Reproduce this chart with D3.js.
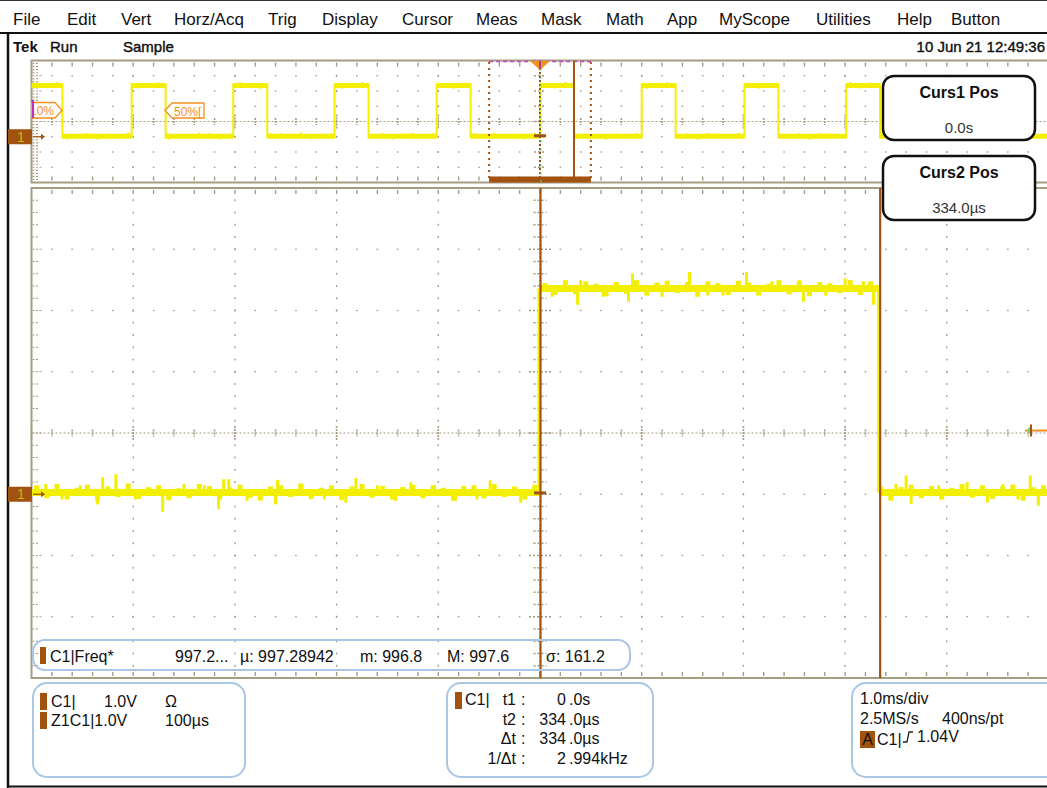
<!DOCTYPE html>
<html lang="en">
<head>
<meta charset="utf-8" />
<title>Scope capture</title>
<script src="https://cdn.jsdelivr.net/npm/d3@7"></script>
<style>
  body { margin: 0; background: #fff; }
  text { font-family: "Liberation Sans", Arial, sans-serif; }
</style>
</head>
<body>
<script>
// ---- values ----
const menuItems = ["File", "Edit", "Vert", "Horz/Acq", "Trig", "Display", "Cursor", "Meas",
                   "Mask", "Math", "App", "MyScope", "Utilities", "Help", "Button"];
const statusItems = ["Tek", "Run", "Sample"];
const timestamp = "10 Jun 21 12:49:36";

// zoomed view: time in µs, volts (1 V/div, ground one division below centre)
const zoomSpan = [-500, 500];
const voltSpan = [-3, 5];
const lowLevel = 0.03;
const highLevel = 3.36;
const pulseEdges = [0, 334];          // rise, fall (µs)
const trigLevel = 1.04;
// larger noise spikes on the zoomed trace: [time µs] / [offset V]
const spikeTimes = [-486, -470, -452, -435, -430, -417, -398, -371, -350, -330, -316, -311, -306,
                    -288, -260, -258, -236, -212, -191, -181, -160, -142, -127, -104, -83, -62, -49, -19,
                    12, 37, 40, 62, 87, 91, 120, 147, 165, 180, 203, 228, 255, 259, 281, 300, 318, 328,
                    350, 360, 365, 392, 420, 440, 455, 470, 482, 490];
const spikeVolts = [0.12, -0.1, 0.1, -0.18, 0.23, 0.28, -0.1, -0.3, 0.12, 0.1, -0.26, 0.2, 0.2,
                    -0.12, -0.18, 0.19, 0.1, -0.1, -0.15, 0.22, 0.1, -0.12, 0.15, 0.1, -0.12, -0.1, 0.18, -0.15,
                    -0.12, -0.25, 0.12, -0.12, -0.2, 0.23, -0.12, 0.25, -0.1, -0.1, 0.25, 0.1, 0.12, -0.2, -0.1, 0.15, 0.1, -0.25,
                    0.12, 0.26, -0.17, 0.1, 0.15, -0.15, 0.12, -0.1, 0.26, -0.2];
// small ripple, one value per 10 µs from -495 µs
const rippleVolts = [0.1, -0.08, 0.12, -0.1, 0.06, 0.11, -0.12, 0.08, -0.06, 0.13,
                     -0.09, 0.07, 0.1, -0.11, 0.05, -0.08, 0.12, 0.09, -0.1, 0.07,
                     0.11, -0.07, -0.12, 0.08, 0.1, -0.06, 0.13, -0.09, 0.06, 0.1,
                     -0.11, 0.08, 0.12, -0.07, 0.09, -0.1, 0.07, 0.11, -0.08, 0.1,
                     0.06, -0.12, 0.09, 0.1, -0.08, 0.12, -0.06, 0.08, -0.1, 0.11,
                     0.07, -0.09, 0.12, -0.08, 0.1, 0.06, -0.11, 0.09, -0.07, 0.12,
                     -0.1, 0.08, 0.11, -0.06, 0.09, -0.12, 0.1, 0.07, -0.09, 0.11,
                     0.08, -0.1, 0.06, 0.12, -0.08, 0.1, -0.11, 0.09, 0.07, -0.06,
                     0.12, -0.09, 0.1, 0.08, -0.12, 0.07, 0.11, -0.08, 0.09, -0.1,
                     0.06, 0.12, -0.07, 0.1, -0.09, 0.08, 0.11, -0.12, 0.07, 0.1];

// overview: time in ms
const overviewSpan = [-5, 5];
const overviewRises = [-5.03, -4.015, -3.016, -2.02, -1.016, 0, 1.0, 2.01, 3.01, 4.01];
const pulseWidthMs = 0.334;
const zoomWindowMs = [-0.5, 0.5];

const cursorTimes = [0, 334];         // µs
const cursorLabels = ["Curs1 Pos", "Curs2 Pos"];
const cursorValues = ["0.0s", "334.0µs"];

const measName = "C1|Freq*";
const measItems = ["997.2...", "µ: 997.28942", "m: 996.8", "M: 997.6", "σ: 161.2"];
const vertRows = [["C1|", "1.0V", "Ω"], ["Z1C1|1.0V", "", "100µs"]];
const cursorRows = [["t1", "0 .0s"], ["t2", "334 .0µs"], ["Δt", "334 .0µs"], ["1/Δt", "2 .994kHz"]];
const horizRows = ["1.0ms/div", "2.5MS/s", "400ns/pt"];
const trigText = ["A", "C1|", "1.04V"];

// ---- layout ----
const W = 1047, H = 788;
const menuX = [13, 67, 121, 174, 268, 322, 402, 476, 541, 606, 667, 719, 816, 897, 951];
const statusX = [13, 50, 123];
const measX = [175, 240, 360, 447, 546];
const gridCol = "#a59c82";
const brown = "#a1520e";
const yellow = "#f3ef00";
const orange = "#f5901c";
const boxBlue = "#a9c7e5";

const svg = d3.select("body").append("svg")
    .attr("width", W).attr("height", H)
    .style("display", "block");
svg.append("rect").attr("width", W).attr("height", H).attr("fill", "#fff");

const defs = svg.append("defs");
defs.append("clipPath").attr("id", "clipO")
    .append("rect").attr("x", 31.5).attr("y", 60).attr("width", W - 31.5).attr("height", 123);
defs.append("clipPath").attr("id", "clipZ")
    .append("rect").attr("x", 31.5).attr("y", 188).attr("width", W - 31.5).attr("height", 490);

// ---- frame, menu and status line ----
svg.append("line").attr("x1", 0).attr("x2", W).attr("y1", 0.5).attr("y2", 0.5).attr("stroke", "#333");
svg.append("line").attr("x1", 0).attr("x2", W).attr("y1", 33).attr("y2", 33).attr("stroke", "#111").attr("stroke-width", 2);
svg.append("line").attr("x1", 8).attr("x2", 8).attr("y1", 33).attr("y2", H).attr("stroke", "#111").attr("stroke-width", 2.5);
svg.append("line").attr("x1", 8).attr("x2", W).attr("y1", 786.5).attr("y2", 786.5).attr("stroke", "#111").attr("stroke-width", 2);

svg.selectAll(".menu").data(menuItems).enter().append("text")
    .attr("class", "menu")
    .attr("x", (d, i) => menuX[i]).attr("y", 25)
    .attr("font-size", 17).attr("fill", "#111")
    .text(d => d);

svg.selectAll(".status").data(statusItems).enter().append("text")
    .attr("class", "status")
    .attr("x", (d, i) => statusX[i]).attr("y", 52)
    .attr("font-size", 15).attr("font-weight", (d, i) => i === 0 ? "bold" : "normal")
    .attr("fill", "#111").attr("stroke", "#111").attr("stroke-width", (d, i) => i === 0 ? 0 : 0.4)
    .text(d => d);
svg.append("text").attr("x", 1045).attr("y", 52).attr("text-anchor", "end")
    .attr("font-size", 15).attr("fill", "#111").attr("stroke", "#111").attr("stroke-width", 0.4)
    .text(timestamp);

// ---- scales ----
const xZ = d3.scaleLinear().domain(zoomSpan).range([31.5, 1048.5]);
const yZ = d3.scaleLinear().domain(voltSpan).range([678, 188]);
const xO = d3.scaleLinear().domain(overviewSpan).range([31.5, 1048.5]);
const yO = d3.scaleLinear().domain(voltSpan).range([182.5, 60.5]);

// ---- graticule ----
function graticule(g, x, y, dense) {
  const [xa, xb] = x.domain(), [ya, yb] = y.domain();
  const dx = (xb - xa) / 10;
  const xMaj = d3.range(11).map(i => xa + i * dx);
  const xMin = d3.range(51).map(i => xa + i * dx / 5);
  const yMaj = d3.range(9).map(j => ya + j);
  const yMin = d3.range(41).map(j => ya + j * 0.2);
  const xc = x((xa + xb) / 2), yc = y((ya + yb) / 2);
  const dot = (px, py, w, h) => g.append("rect").attr("x", px - w / 2).attr("y", py - h / 2)
      .attr("width", w).attr("height", h).attr("fill", gridCol);

  // dots on the major rows
  yMaj.forEach((v, j) => {
    if (j === 0 || j === 8 || j === 4) return;
    xMin.forEach((t, i) => { if (i > 0 && i < 50) dot(x(t), y(v), 1.6, 1.3); });
  });
  // dots on the major columns
  xMaj.forEach((t, i) => {
    if (i === 0 || i === 10 || i === 5) return;
    (dense ? yMin : yMaj).forEach((v, j) => { if (j > 0 && j < (dense ? 40 : 8)) dot(x(t), y(v), 1.3, 2); });
  });
  // centre lines, dotted with ticks
  g.append("line").attr("x1", x(xa)).attr("x2", x(xb)).attr("y1", yc).attr("y2", yc)
      .attr("stroke", gridCol).attr("stroke-dasharray", "2,2");
  g.append("line").attr("x1", xc).attr("x2", xc).attr("y1", y(ya)).attr("y2", y(yb))
      .attr("stroke", gridCol).attr("stroke-dasharray", "2,2");
  xMin.forEach((t, i) => {
    const h = i % 5 === 0 ? 14 : 7;
    g.append("line").attr("x1", x(t)).attr("x2", x(t)).attr("y1", yc - h / 2).attr("y2", yc + h / 2)
        .attr("stroke", gridCol).attr("stroke-width", 1.6).attr("stroke-dasharray", "2,1");
  });
  (dense ? yMin : yMaj).forEach((v, j) => {
    const w = dense ? (j % 5 === 0 ? 22 : 13) : 12;
    g.append("line").attr("x1", xc - w / 2).attr("x2", xc + w / 2).attr("y1", y(v)).attr("y2", y(v))
        .attr("stroke", gridCol).attr("stroke-width", 1.3).attr("stroke-dasharray", "2,2");
  });
  // border ticks
  xMin.forEach((t, i) => {
    if (i === 0) return;
    dot(x(t), y(yb) + 4, 1.4, 4);
    dot(x(t), y(ya) - 4, 1.4, 4);
  });
  yMin.forEach((v, j) => {
    g.append("line").attr("x1", x(xa) + 1).attr("x2", x(xa) + (j % 5 === 0 ? 11 : 7))
        .attr("y1", y(v)).attr("y2", y(v))
        .attr("stroke", gridCol).attr("stroke-width", 1.1).attr("stroke-dasharray", "2,1.5");
  });
  // frame
  g.append("rect").attr("x", x(xa)).attr("y", y(yb)).attr("width", x(xb) - x(xa)).attr("height", y(ya) - y(yb))
      .attr("fill", "none").attr("stroke", gridCol).attr("stroke-width", 2);
}

graticule(svg.append("g").attr("id", "grid-overview"), xO, yO, false);
graticule(svg.append("g").attr("id", "grid-zoom"), xZ, yZ, true);

// ---- overview trace ----
const gO = svg.append("g").attr("clip-path", "url(#clipO)");
const ovSegs = [];
overviewRises.forEach((r, i) => {
  const next = i + 1 < overviewRises.length ? overviewRises[i + 1] : overviewSpan[1] + 1;
  ovSegs.push([r, r + pulseWidthMs, highLevel]);
  ovSegs.push([r + pulseWidthMs, next, lowLevel]);
});
gO.selectAll(".ovlevel").data(ovSegs).enter().append("line")
    .attr("x1", d => xO(d[0])).attr("x2", d => xO(d[1]))
    .attr("y1", d => yO(d[2])).attr("y2", d => yO(d[2]))
    .attr("stroke", yellow).attr("stroke-width", 5);
// ripple on the overview trace (same ripple list, spread over the 10 ms span)
gO.selectAll(".ovripple").data(rippleVolts).enter().append("line")
    .attr("x1", (d, i) => xO(-4.95 + i * 0.1)).attr("x2", (d, i) => xO(-4.95 + i * 0.1))
    .attr("y1", (d, i) => {
      const t = -4.95 + i * 0.1;
      const s = ovSegs.find(q => t >= q[0] && t < q[1]);
      return yO(s ? s[2] : lowLevel);
    })
    .attr("y2", (d, i) => {
      const t = -4.95 + i * 0.1;
      const s = ovSegs.find(q => t >= q[0] && t < q[1]);
      return yO((s ? s[2] : lowLevel) + d * 1.4) + (d > 0 ? -1 : 1);
    })
    .attr("stroke", yellow).attr("stroke-width", 2);
gO.selectAll(".ovedge").data(ovSegs.slice(1)).enter().append("line")
    .attr("x1", d => xO(d[0])).attr("x2", d => xO(d[0]))
    .attr("y1", d => yO(lowLevel) + 2).attr("y2", d => yO(highLevel) - 2)
    .attr("stroke", yellow).attr("stroke-width", 2);

// zoom window box, trigger position and cursors in the overview
const zl = xO(zoomWindowMs[0]), zr = xO(zoomWindowMs[1]);
[zl, zr].forEach(px => gO.append("line").attr("x1", px).attr("x2", px).attr("y1", 62).attr("y2", 180)
    .attr("stroke", brown).attr("stroke-width", 2).attr("stroke-dasharray", "2,4"));
gO.append("line").attr("x1", zl).attr("x2", zr).attr("y1", 61.5).attr("y2", 61.5)
    .attr("stroke", "#c040c0").attr("stroke-width", 1.5).attr("stroke-dasharray", "4,3");
gO.append("rect").attr("x", zl).attr("y", 176.5).attr("width", zr - zl).attr("height", 6).attr("fill", brown);
gO.append("line").attr("x1", xO(0)).attr("x2", xO(0)).attr("y1", 68).attr("y2", 182)
    .attr("stroke", brown).attr("stroke-width", 2).attr("stroke-dasharray", "2,2");
gO.append("line").attr("x1", xO(0) + 1).attr("x2", xO(0) + 1).attr("y1", 68).attr("y2", 182)
    .attr("stroke", "#7fe07f").attr("stroke-width", 1).attr("stroke-dasharray", "3,5");
gO.append("line").attr("x1", xO(cursorTimes[1] / 1000)).attr("x2", xO(cursorTimes[1] / 1000))
    .attr("y1", 61).attr("y2", 182).attr("stroke", brown).attr("stroke-width", 2);
gO.append("path")
    .attr("d", `M${xO(0) - 10},61 L${xO(0) + 10},61 L${xO(0)},70 Z`).attr("fill", orange);
gO.append("line").attr("x1", xO(0)).attr("x2", xO(0)).attr("y1", 61).attr("y2", 69)
    .attr("stroke", "#8a2ea0").attr("stroke-width", 1.5);
gO.append("rect").attr("x", xO(0) - 6).attr("y", yO(lowLevel) - 2).attr("width", 12).attr("height", 3).attr("fill", brown);

// reference level labels
gO.append("path").attr("d", "M20,102.5 H55 L62,110.5 L55,118 H20 Z")
    .attr("fill", "#fff").attr("stroke", orange).attr("stroke-width", 1.3);
gO.append("text").attr("x", 30).attr("y", 115).attr("font-size", 12)
    .attr("font-family", "DejaVu Sans Mono").attr("fill", orange).text("10%");
gO.append("rect").attr("x", 31.5).attr("y", 100).attr("width", 2.5).attr("height", 18).attr("fill", "#c030c0");
gO.append("path").attr("d", "M165,110.5 L172,103 H204 V118 H172 Z")
    .attr("fill", "#fff").attr("stroke", orange).attr("stroke-width", 1.3);
gO.append("text").attr("x", 174).attr("y", 115.5).attr("font-size", 12)
    .attr("font-family", "DejaVu Sans Mono").attr("fill", orange).text("50%[");

// ---- zoomed trace ----
const gZ = svg.append("g").attr("clip-path", "url(#clipZ)");
const levelAt = t => (t >= pulseEdges[0] && t < pulseEdges[1]) ? highLevel : lowLevel;
const zSegs = [[zoomSpan[0], pulseEdges[0], lowLevel], [pulseEdges[0], pulseEdges[1], highLevel],
               [pulseEdges[1], zoomSpan[1], lowLevel]];
gZ.selectAll(".zlevel").data(zSegs).enter().append("line")
    .attr("x1", d => xZ(d[0])).attr("x2", d => xZ(d[1]))
    .attr("y1", d => yZ(d[2])).attr("y2", d => yZ(d[2]))
    .attr("stroke", yellow).attr("stroke-width", 7);
const rippleTimes = rippleVolts.map((v, i) => -495 + i * 10);
gZ.selectAll(".ripple").data(rippleTimes).enter().append("line")
    .attr("x1", d => xZ(d)).attr("x2", d => xZ(d))
    .attr("y1", d => yZ(levelAt(d)))
    .attr("y2", (d, i) => yZ(levelAt(d) + rippleVolts[i]) + (rippleVolts[i] > 0 ? -1 : 1))
    .attr("stroke", yellow).attr("stroke-width", 5);
gZ.selectAll(".zedge").data(pulseEdges).enter().append("line")
    .attr("x1", d => xZ(d) - 1).attr("x2", d => xZ(d) - 1)
    .attr("y1", yZ(lowLevel)).attr("y2", yZ(highLevel))
    .attr("stroke", yellow).attr("stroke-width", 3);
gZ.selectAll(".spike").data(spikeTimes).enter().append("line")
    .attr("x1", d => xZ(d)).attr("x2", d => xZ(d))
    .attr("y1", d => yZ(levelAt(d)))
    .attr("y2", (d, i) => yZ(levelAt(d) + spikeVolts[i]) + (spikeVolts[i] > 0 ? -1 : 1))
    .attr("stroke", yellow).attr("stroke-width", 3);

// cursors in the zoomed view
gZ.selectAll(".cursor").data(cursorTimes).enter().append("line")
    .attr("x1", d => xZ(d) + 0.5).attr("x2", d => xZ(d) + 0.5)
    .attr("y1", 188).attr("y2", 678)
    .attr("stroke", brown).attr("stroke-width", 2.2);
gZ.append("rect").attr("x", xZ(0) - 6).attr("y", yZ(lowLevel) - 1).attr("width", 12).attr("height", 3).attr("fill", brown);
// trigger level marker
const yT = yZ(trigLevel);
gZ.append("line").attr("x1", 1025).attr("x2", W).attr("y1", yT).attr("y2", yT).attr("stroke", orange).attr("stroke-width", 2);
gZ.append("line").attr("x1", 1031).attr("x2", 1031).attr("y1", yT - 6).attr("y2", yT + 6).attr("stroke", brown).attr("stroke-width", 2);
gZ.append("line").attr("x1", 1029).attr("x2", 1029).attr("y1", yT - 3).attr("y2", yT + 3).attr("stroke", "#7fd07f").attr("stroke-width", 2);

// ground markers
[[yO(0), 15], [yZ(0), 15]].forEach(([gy, h]) => {
  svg.append("rect").attr("x", 8).attr("y", gy - h / 2).attr("width", 24).attr("height", h).attr("fill", brown);
  svg.append("text").attr("x", 21).attr("y", gy + 5).attr("text-anchor", "middle")
      .attr("font-size", 14).attr("font-family", "DejaVu Serif").attr("fill", "#c8b418").text("1");
  svg.append("line").attr("x1", 33).attr("x2", 41).attr("y1", gy).attr("y2", gy).attr("stroke", brown).attr("stroke-width", 1.2);
  svg.append("path").attr("d", `M41,${gy - 3} L45,${gy} L41,${gy + 3} Z`).attr("fill", brown);
});

// ---- cursor readout boxes ----
cursorLabels.forEach((lab, i) => {
  const top = 76 + i * 80;
  svg.append("rect").attr("x", 883).attr("y", top).attr("width", 152).attr("height", 64).attr("rx", 11)
      .attr("fill", "#fff").attr("stroke", "#111").attr("stroke-width", 2.5);
  svg.append("text").attr("x", 959).attr("y", top + 22).attr("text-anchor", "middle")
      .attr("font-size", 16).attr("font-weight", "bold").attr("fill", "#111").text(lab);
  svg.append("text").attr("x", 959).attr("y", top + 57).attr("text-anchor", "middle")
      .attr("font-size", 15).attr("fill", "#333").text(cursorValues[i]);
});

// ---- measurement strip ----
svg.append("rect").attr("x", 33).attr("y", 640).attr("width", 597).attr("height", 30).attr("rx", 12)
    .attr("fill", "none").attr("stroke", boxBlue).attr("stroke-width", 2);
svg.append("rect").attr("x", 40).attr("y", 647).attr("width", 6).attr("height", 17).attr("fill", brown);
svg.append("text").attr("x", 50).attr("y", 662).attr("font-size", 16).attr("fill", "#111").text(measName);
svg.selectAll(".meas").data(measItems).enter().append("text")
    .attr("x", (d, i) => measX[i]).attr("y", 662)
    .attr("font-size", 16).attr("fill", "#111").text(d => d);

// ---- bottom panels ----
[[33, 212], [447, 206], [852, 210]].forEach(([bx, bw]) => {
  svg.append("rect").attr("x", bx).attr("y", 683).attr("width", bw).attr("height", 94).attr("rx", 14)
      .attr("fill", "#fff").attr("stroke", boxBlue).attr("stroke-width", 2);
});
// vertical settings
vertRows.forEach((row, i) => {
  const by = 707 + i * 19;
  svg.append("rect").attr("x", 40).attr("y", by - 14).attr("width", 7).attr("height", 17).attr("fill", brown);
  svg.append("text").attr("x", 51).attr("y", by).attr("font-size", 16).attr("fill", "#111").text(row[0]);
  if (row[1]) svg.append("text").attr("x", 104).attr("y", by).attr("font-size", 16).attr("fill", "#111").text(row[1]);
  svg.append("text").attr("x", 165).attr("y", by).attr("font-size", 16).attr("fill", "#111").text(row[2]);
});
// cursor readout
svg.append("rect").attr("x", 455).attr("y", 692).attr("width", 7).attr("height", 17).attr("fill", brown);
svg.append("text").attr("x", 465).attr("y", 705).attr("font-size", 16).attr("fill", "#111").text("C1|");
cursorRows.forEach((row, i) => {
  const by = 705 + i * 19.5;
  const parts = row[1].split(" ");
  svg.append("text").attr("x", 516).attr("y", by).attr("text-anchor", "end").attr("font-size", 16).attr("fill", "#111").text(row[0]);
  svg.append("text").attr("x", 521).attr("y", by).attr("font-size", 16).attr("fill", "#111").text(":");
  svg.append("text").attr("x", 566).attr("y", by).attr("text-anchor", "end").attr("font-size", 16).attr("fill", "#111").text(parts[0]);
  svg.append("text").attr("x", 569).attr("y", by).attr("font-size", 16).attr("fill", "#111").text(parts[1]);
});
// horizontal / trigger settings
svg.append("text").attr("x", 860).attr("y", 704).attr("font-size", 16).attr("fill", "#111").text(horizRows[0]);
svg.append("text").attr("x", 860).attr("y", 724).attr("font-size", 16).attr("fill", "#111").text(horizRows[1]);
svg.append("text").attr("x", 942).attr("y", 724).attr("font-size", 16).attr("fill", "#111").text(horizRows[2]);
svg.append("rect").attr("x", 860).attr("y", 731).attr("width", 15).attr("height", 17).attr("fill", brown);
svg.append("text").attr("x", 867.5).attr("y", 745).attr("text-anchor", "middle").attr("font-size", 16).attr("fill", "#111").text(trigText[0]);
svg.append("text").attr("x", 877).attr("y", 745).attr("font-size", 16).attr("fill", "#111").text(trigText[1]);
svg.append("path").attr("d", "M903,742 H907 L909,732 H913").attr("fill", "none").attr("stroke", "#222").attr("stroke-width", 1.3);
svg.append("text").attr("x", 917).attr("y", 742).attr("font-size", 16).attr("fill", "#111").text(trigText[2]);
</script>
</body>
</html>
